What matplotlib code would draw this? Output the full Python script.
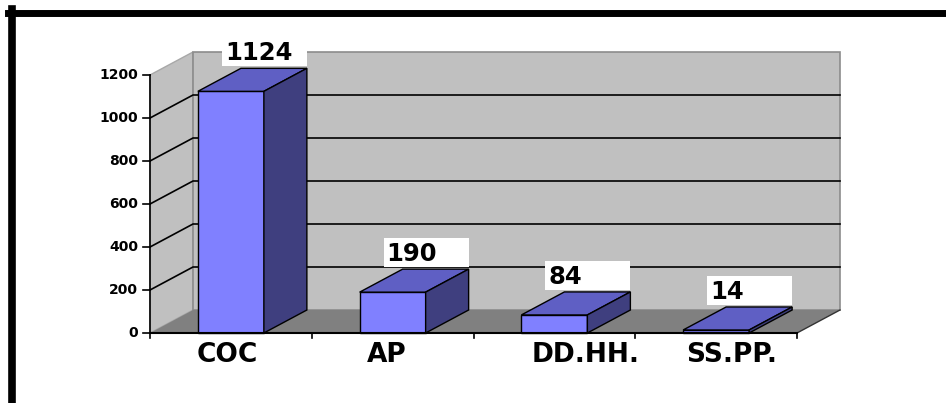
import matplotlib.pyplot as plt
from matplotlib.patches import Polygon, Rectangle

categories = ['COC', 'AP', 'DD.HH.', 'SS.PP.']
values = [1124, 190, 84, 14]
y_ticks = [0, 200, 400, 600, 800, 1000, 1200]

# page layout, in pixels
W, H = 946, 403
x0_px = 150          # front-left corner of the floor
cat_px = 161.75      # width of one category slot
y0_px = 333          # front baseline, measured from the top
unit_px = 43 / 200   # pixels per value unit
depth_px = (43, 23)  # oblique depth of the box
label_shift_px = [-4, -6, 31, 15]

FONT = 'DejaVu Sans'
front_c, top_c, side_c = '#8080FF', '#5F5FC4', '#3F3F7F'
wall_c, floor_c = '#C0C0C0', '#808080'

fig = plt.figure(figsize=(W / 100, H / 100), dpi=100, facecolor='white')
ax = fig.add_axes([0, 0, 1, 1])
ax.set_xlim(-0.5 - x0_px / cat_px, -0.5 + (W - x0_px) / cat_px)
ax.set_ylim(-(H - y0_px) / unit_px, y0_px / unit_px)
ax.axis('off')

dx = depth_px[0] / cat_px
dy = depth_px[1] / unit_px
ymax = y_ticks[-1]
left, right = -0.5, len(categories) - 0.5

# walls and floor
ax.add_patch(Polygon([(left, 0), (left, ymax), (left + dx, ymax + dy), (left + dx, dy)],
                     closed=True, fc=wall_c, ec='#A8A8A8', lw=1, zorder=1))
ax.add_patch(Rectangle((left + dx, dy), right - left, ymax, fc=wall_c, ec='#8C8C8C',
                       lw=1.2, zorder=1))
for t in y_ticks[1:-1]:
    ax.plot([left, left + dx, right + dx], [t, t + dy, t + dy], color='black', lw=1.2, zorder=2)
ax.add_patch(Polygon([(left, 0), (right, 0), (right + dx, dy), (left + dx, dy)],
                     closed=True, fc=floor_c, ec='none', zorder=3))
ax.plot([right, right + dx], [0, dy], color='#333333', lw=1, zorder=3)

# bars: front face, top and right side
w = 66 / cat_px
xs = list(range(len(categories)))
ax.bar(xs, values, width=w, color=front_c, edgecolor='black', lw=1, zorder=4)
for x, v in zip(xs, values):
    a, b = x - w / 2, x + w / 2
    ax.add_patch(Polygon([(a, v), (b, v), (b + dx, v + dy), (a + dx, v + dy)],
                         closed=True, fc=top_c, ec='black', lw=1, zorder=4))
    ax.add_patch(Polygon([(b, 0), (b, v), (b + dx, v + dy), (b + dx, dy)],
                         closed=True, fc=side_c, ec='black', lw=1, zorder=4))

# value labels in white boxes
box_w, box_h = 85 / cat_px, 29 / unit_px
for x, v in zip(xs, values):
    bx = x - w / 2 + 24 / cat_px
    by = v + dy + 2 / unit_px
    ax.add_patch(Rectangle((bx, by), box_w, box_h, fc='white', ec='none', zorder=5))
    ax.text(bx + 3 / cat_px, by + 6 / unit_px, str(v), fontsize=17.5, fontweight='bold',
            family=FONT, ha='left', va='baseline', zorder=6)

# axes lines and ticks
ax.plot([left, left], [0, ymax], color='black', lw=1.2, zorder=6)
ax.plot([left, right], [0, 0], color='black', lw=1.5, zorder=6)
for t in y_ticks:
    ax.plot([left - 7 / cat_px, left], [t, t], color='black', lw=1.2, zorder=6)
    ax.text(left - 12 / cat_px, t, str(t), fontsize=10, fontweight='bold', family=FONT,
            ha='right', va='center')
for k in range(len(categories) + 1):
    ax.plot([left + k, left + k], [0, -5 / unit_px], color='black', lw=1.2, zorder=6)
for x, name, s in zip(xs, categories, label_shift_px):
    ax.text(x + s / cat_px, -29 / unit_px, name, fontsize=19, fontweight='bold', family=FONT,
            ha='center', va='baseline')

# black frame along the top and left edges
fig.add_artist(plt.Line2D([8 / W, 1], [1 - 12.5 / H] * 2, transform=fig.transFigure,
                          color='black', lw=5))
fig.add_artist(plt.Line2D([11.5 / W] * 2, [0, 1 - 9 / H], transform=fig.transFigure,
                          color='black', lw=5.5))

fig.savefig('out.png', dpi=100, facecolor='white')
